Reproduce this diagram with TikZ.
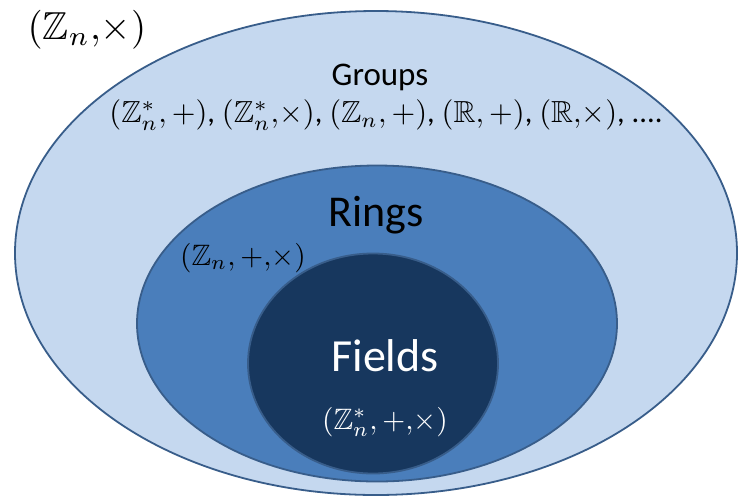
\documentclass[tikz,border=0pt]{standalone}
\usepackage{amssymb}
\usepackage{graphicx}
\usepackage{fontspec}
\setmainfont{Carlito}
\definecolor{outerfill}{RGB}{197,216,239}
\definecolor{midfill}{RGB}{74,126,187}
\definecolor{innerfill}{RGB}{23,55,94}
\definecolor{edge}{RGB}{56,93,138}
\begin{document}
\begin{tikzpicture}[x=1pt,y=-1pt,
  setshape/.style={draw=edge,line width=1.8pt},
  lbl/.style={inner sep=0pt,anchor=center}]
\useasboundingbox (0,0) rectangle (741,499);
\fill[white] (0,0) rectangle (741,499);
\draw[setshape,fill=outerfill] (376,253) ellipse [x radius=361,y radius=242];
\draw[setshape,fill=midfill] (377,323.5) ellipse [x radius=240,y radius=158];
\draw[setshape,fill=innerfill] (373,363.5) ellipse [x radius=125,y radius=110];
\node[lbl] (zmul) at (87,30) {\scalebox{3.9}{$(\mathbb{Z}_n,\!\times)$}};
\node[lbl] (groups) at (380,77) {\fontsize{33}{36}\selectfont Groups};
\node[lbl] (glist) at (386,115) {\scalebox{3.05}{$(\mathbb{Z}_n^*,+)$, $(\mathbb{Z}_n^*,\!\times)$, $(\mathbb{Z}_n,+)$, $(\mathbb{R},+)$, $(\mathbb{R},\!\times)$, ....}};
\node[lbl] (rings) at (376,215) {\fontsize{44}{48}\selectfont Rings};
\node[lbl] (rlist) at (243,258) {\scalebox{2.95}{$(\mathbb{Z}_n,+,\!\times)$}};
\node[lbl,text=white] (fields) at (385,356) {\fontsize{46}{50}\selectfont Fields};
\node[lbl,text=white] (flist) at (385,422) {\scalebox{2.95}{$(\mathbb{Z}_n^*,+,\!\times)$}};
\end{tikzpicture}
\end{document}
